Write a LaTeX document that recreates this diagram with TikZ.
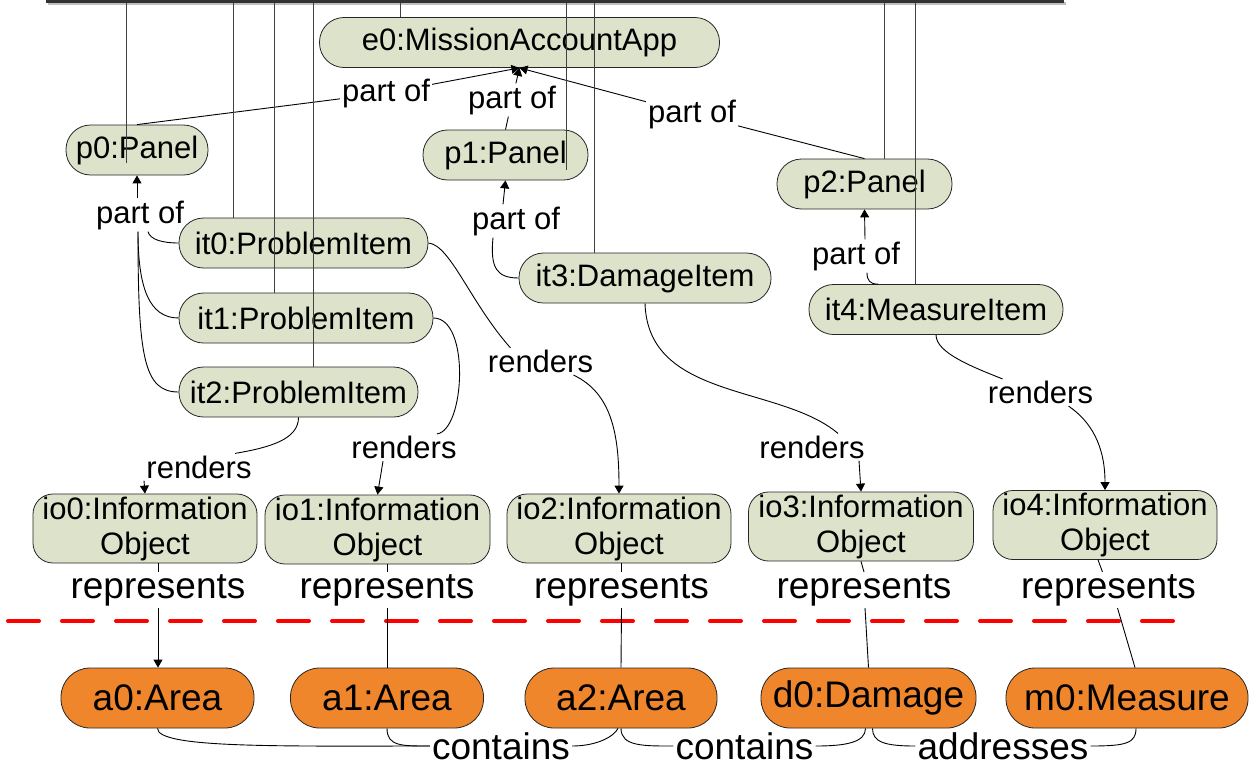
\documentclass[tikz,border=0pt]{standalone}
\usepackage{fontspec}
\setmainfont{Liberation Sans}
\usetikzlibrary{arrows.meta}
\definecolor{sage}{RGB}{221,226,203}
\definecolor{orng}{RGB}{240,134,43}
\definecolor{dred}{RGB}{255,0,0}
\begin{document}
\begin{tikzpicture}[x=1pt,y=-1pt,
  obj/.style={draw=black!85, line width=0.8pt, fill=sage, rounded corners=24.5pt, inner sep=0pt, minimum height=50pt, font=\fontsize{31}{36}\selectfont},
  iobj/.style={draw=black!85, line width=0.8pt, fill=sage, rounded corners=20pt, inner sep=0pt, minimum height=69pt, minimum width=224pt, align=center, font=\fontsize{31}{35}\selectfont},
  dobj/.style={draw=black!85, line width=0.8pt, fill=orng, rounded corners=29pt, inner sep=0pt, minimum height=60pt, font=\fontsize{37}{42}\selectfont},
  lab/.style={inner sep=2pt, font=\fontsize{31}{36}\selectfont},
  blab/.style={inner sep=2pt, font=\fontsize{37}{42}\selectfont},
  con/.style={line width=0.9pt, black},
  arr/.style={con, -{Triangle[length=8pt,width=9pt]}},
  feed/.style={line width=1pt, black!75}
]
\useasboundingbox (0,0) rectangle (1249,766);

% top bar
\draw[line width=2.5pt, black!25] (48,3.5) -- (1066,3.5);
\draw[line width=3pt, black!80] (46,1.5) -- (1064,1.5);

% red separator
\draw[dred, line width=4pt, line cap=round, dash pattern=on 31pt off 23pt] (8,621) -- (1183,621);

% nodes
\node[obj, minimum width=400pt] (e0) at (519.5,42.5) {e0:MissionAccountApp};
\node[obj, minimum width=142pt] (p0) at (137,150) {p0:Panel};
\node[obj, minimum width=165pt] (p1) at (505.5,155) {p1:Panel};
\node[obj, minimum width=175pt] (p2) at (864.5,184) {p2:Panel};
\node[obj, minimum width=249pt] (it0) at (303.5,243) {it0:ProblemItem};
\node[obj, minimum width=254pt] (it1) at (306,318) {it1:ProblemItem};
\node[obj, minimum width=239pt] (it2) at (298.5,392) {it2:ProblemItem};
\node[obj, minimum width=252pt] (it3) at (645,278) {it3:DamageItem};
\node[obj, minimum width=254pt] (it4) at (936,309.5) {it4:MeasureItem};
\node[iobj] (io0) at (145,528.5) {io0:Information\\Object};
\node[iobj, minimum width=225pt] (io1) at (377.5,529.5) {io1:Information\\Object};
\node[iobj] (io2) at (619,528.5) {io2:Information\\Object};
\node[iobj, minimum width=225pt] (io3) at (861,526.5) {io3:Information\\Object};
\node[iobj] (io4) at (1105,525) {io4:Information\\Object};
\node[dobj, minimum width=193pt] (a0) at (157.5,698) {a0:Area};
\node[dobj, minimum width=193pt] (a1) at (387,698) {a1:Area};
\node[dobj, minimum width=192pt] (a2) at (621,698) {a2:Area};
\node[dobj, minimum width=215pt] (d0) at (868.5,698) {d0:Damage};
\node[dobj, minimum width=242pt] (m0) at (1127,698) {m0:Measure};

% labels
\node[lab] (lpo0) at (386,93) {part of};
\node[lab] (lpo1) at (512,100) {part of};
\node[lab] (lpo2) at (692,114) {part of};
\node[lab] (lpp0) at (140,215) {part of};
\node[lab] (lpp1) at (516,221) {part of};
\node[lab] (lpp2) at (856,256) {part of};
\node[lab] (lr0) at (199,467) {renders};
\node[lab] (lr1) at (404,447.5) {renders};
\node[lab] (lr2) at (540.5,361.5) {renders};
\node[lab] (lr3) at (812,447) {renders};
\node[lab] (lr4) at (1040.5,392.5) {renders};
\node[blab] (lrep0) at (158,590) {represents};
\node[blab] (lrep1) at (387,590) {represents};
\node[blab] (lrep2) at (621.5,590) {represents};
\node[blab] (lrep3) at (864,590) {represents};
\node[blab] (lrep4) at (1108.5,590) {represents};
\node[blab] (lc1) at (501,746) {contains};
\node[blab] (lc2) at (744.5,746) {contains};
\node[blab] (lad) at (1003,746) {addresses};

% part of -> e0
\draw[con] (p0.north) -- (lpo0);
\draw[arr] (lpo0) -- (e0.south);
\draw[con] (p1.north) -- (lpo1);
\draw[arr] (lpo1) -- (e0.south);
\draw[con] (p2.north) -- (lpo2);
\draw[arr] (lpo2) -- (e0.south);

% part of -> p0
\draw[arr] (lpp0.north -| p0.south) -- (p0.south);
\draw[con] ([xshift=8pt]lpp0.south) .. controls +(2,8) and +(-16,0) .. (it0.west);
\draw[con] ([xshift=-2pt]lpp0.south) .. controls +(0,55) and +(-30,0) .. (it1.west);
\draw[con] ([xshift=-2pt]lpp0.south) .. controls +(0,125) and +(-35,0) .. (it2.west);

% part of -> p1
\draw[arr] ([xshift=-13pt]lpp1.north) -- (p1.south);
\draw[con] ([xshift=-23pt]lpp1.south) .. controls +(-3,30) and +(-22,0) .. (it3.west);

% part of -> p2
\draw[arr] ([xshift=9pt]lpp2.north) -- (p2.south);
\draw[con] ([xshift=11pt]lpp2.south) .. controls +(0,8) and +(-8,0) .. ([xshift=-58pt]it4.north);

% renders
\draw[con] (it2.south) .. controls +(0,22) and +(35,-6) .. ([xshift=36pt]lr0.north);
\draw[arr] ([xshift=-55pt]lr0.south) -- (io0.north);
\draw[con] (it1.east) .. controls +(37,0) and +(28,-4) .. ([xshift=33pt]lr1.north);
\draw[arr] ([xshift=-21pt]lr1.south) -- (io1.north);
\draw[con] (it0.east) .. controls +(22,2) and +(-40,-45) .. ([xshift=-30pt]lr2.north);
\draw[arr] ([xshift=33pt]lr2.south) .. controls +(38,18) and +(0,-60) .. (io2.north);
\draw[con] (it3.south) .. controls +(3,97) and +(-58,-49) .. ([xshift=26pt]lr3.north);
\draw[arr] ([xshift=47pt]lr3.south) -- (io3.north);
\draw[con] (it4.south) .. controls +(0,18) and +(-30,-12) .. ([xshift=-38pt]lr4.north);
\draw[arr] ([xshift=28pt]lr4.south) .. controls +(22,15) and +(0,-45) .. (io4.north);

% represents
\draw[con] (io0.south -| lrep0.north) -- (lrep0.north);
\draw[arr] (lrep0.south) -- (a0.north -| lrep0.south);
\draw[con] (io1.south -| lrep1.north) -- (lrep1.north);
\draw[con] (lrep1.south) -- (a1.north);
\draw[con] (io2.south -| lrep2.north) -- (lrep2.north);
\draw[con] (lrep2.south) -- (a2.north);
\draw[con] (io3.south) -- (lrep3.north);
\draw[con] ([xshift=1pt]lrep3.south) -- (d0.north);
\draw[con] ([xshift=-7pt]io4.south) -- ([xshift=-6pt]lrep4.north);
\draw[con] ([xshift=9pt]lrep4.south) -- ([xshift=8pt]m0.north);

% bottom relations
\draw[con] (a0.south) .. controls +(0,20) and +(-150,0) .. (lc1.west);
\draw[con] (a1.south) .. controls +(0,18) and +(-28,0) .. (lc1.west);
\draw[con] (lc1.east) .. controls +(25,0) and +(-4,8) .. ([xshift=-3pt]a2.south);
\draw[con] (a2.south) .. controls +(0,18) and +(-30,0) .. (lc2.west);
\draw[con] (lc2.east) .. controls +(30,0) and +(0,14) .. ([xshift=-3pt]d0.south);
\draw[con] ([xshift=4pt]d0.south) .. controls +(0,14) and +(-30,0) .. (lad.west);
\draw[con] (lad.east) .. controls +(35,0) and +(0,15) .. ([xshift=9pt]m0.south);

% feed lines from the top bar
\coordinate (t1) at (126,3);
\coordinate (t2) at (233,3);
\coordinate (t3) at (274,3);
\coordinate (t4) at (313,3);
\coordinate (t5) at (400,3);
\coordinate (t6) at (566.5,3);
\coordinate (t7) at (594,3);
\coordinate (t8) at (884,3);
\coordinate (t9) at (915.5,3);
\draw[feed] (t1) -- (126,163);
\draw[feed] (t2) -- (t2 |- it0.north);
\draw[feed] (t3) -- (t3 |- it1.north);
\draw[feed] (t4) -- (t4 |- it2.north);
\draw[feed] (t5) -- (t5 |- e0.north);
\draw[feed] (t6) -- (566.5,170);
\draw[feed] (t7) -- (t7 |- it3.north);
\draw[feed] (t8) -- (t8 |- p2.north);
\draw[feed] (t9) -- (t9 |- it4.north);
\end{tikzpicture}
\end{document}
